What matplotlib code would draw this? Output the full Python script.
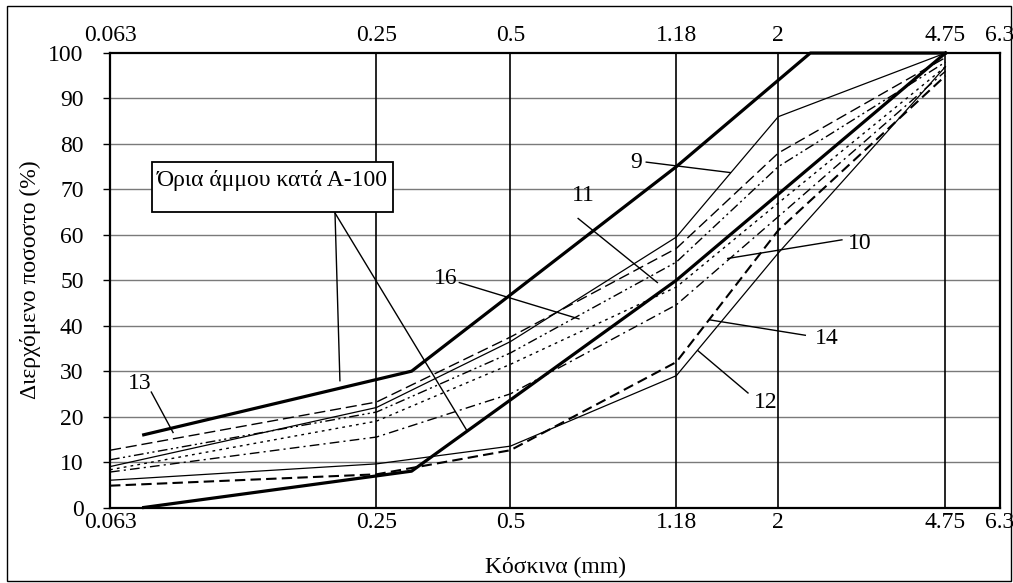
import matplotlib
matplotlib.use('Agg')
import matplotlib.pyplot as plt
from matplotlib.patches import Rectangle
from matplotlib.ticker import FixedLocator, NullLocator

plt.rcParams['font.family'] = ['Liberation Serif', 'DejaVu Serif']
plt.rcParams['font.size'] = 17

# sieve sizes (mm) and axis ticks
sieves = [0.063, 0.25, 0.5, 1.18, 2, 4.75]
tick_vals = [0.063, 0.25, 0.5, 1.18, 2, 4.75, 6.3]
tick_labels = ['0.063', '0.25', '0.5', '1.18', '2', '4.75', '6.3']
grid_x = [0.25, 0.5, 1.18, 2, 4.75]

# A-100 sand limits
upper_x = [0.075, 0.3, 1.18, 2.36, 4.75]
upper_y = [16, 30, 75, 100, 100]
lower_x = [0.075, 0.3, 1.18, 4.75]
lower_y = [0, 8, 50, 100]

# passing percentages of the samples
s9 = [9.0, 22.0, 36.5, 59.5, 86.0, 100]
s13 = [12.6, 23.2, 37.5, 57.0, 78.0, 99]
s11 = [10.5, 21.0, 34.0, 54.0, 75.0, 98]
s16 = [8.3, 19.0, 31.5, 48.5, 67.0, 97]
s10 = [7.8, 15.5, 25.0, 44.6, 64.0, 96]
s14 = [4.8, 7.3, 12.6, 32.0, 61.0, 95]
s12 = [6.0, 9.6, 13.5, 29.0, 56.0, 97]

fig = plt.figure(figsize=(10.13, 5.83), dpi=100)
ax = fig.add_axes([0.1086, 0.1295, 0.8786, 0.7795])
ax.set_xscale('log')
ax.set_xlim(0.063, 6.3)
ax.set_ylim(0, 100)

ax.xaxis.set_major_locator(FixedLocator(tick_vals))
ax.xaxis.set_minor_locator(NullLocator())
ax.set_xticklabels(tick_labels)
ax.tick_params(axis='x', length=0, pad=3)
ax.set_yticks(range(0, 101, 10))
ax.tick_params(axis='y', length=5, width=1, pad=14)

top = ax.secondary_xaxis('top')
top.xaxis.set_major_locator(FixedLocator(tick_vals))
top.xaxis.set_minor_locator(NullLocator())
top.set_xticklabels(tick_labels)
top.tick_params(axis='x', length=0, pad=5)
top.spines['top'].set_visible(False)

for s in ax.spines.values():
    s.set_linewidth(1.6)

for y in range(10, 100, 10):
    ax.axhline(y, color='#7a7a7a', lw=1.0, zorder=1)
for x in grid_x:
    ax.axvline(x, color='black', lw=1.2, zorder=1)

# samples
ax.plot(sieves, s9, color='black', lw=0.9, zorder=3)
ax.plot(sieves, s12, color='black', lw=0.9, zorder=3)
ax.plot(sieves, s13, color='black', lw=1.0, dashes=(8, 3.5), zorder=3)
ax.plot(sieves, s14, color='black', lw=1.5, dashes=(5, 2.5), zorder=3)
ax.plot(sieves, s10, color='black', lw=1.0, dashes=(7, 3, 1.5, 3), zorder=3)
ax.plot(sieves, s16, color='black', lw=1.0, dashes=(2, 3), zorder=3)
ax.plot(sieves, s11, color='black', lw=1.0, dashes=(7, 2.5, 1.5, 2.5, 1.5, 2.5), zorder=3)

# limits
ax.plot(upper_x, upper_y, color='black', lw=2.3, zorder=4, clip_on=False)
ax.plot(lower_x, lower_y, color='black', lw=2.3, zorder=4, clip_on=False)

# labels with leader lines
labels = [
    ('9', (0.958, 76), (1.01, 76), (1.56, 73.7)),
    ('10', (3.05, 58), (2.78, 58.9), (1.54, 54.8)),
    ('11', (0.728, 68.7), (0.71, 63.6), (1.07, 49.5)),
    ('12', (1.87, 23.1), (1.71, 25.2), (1.32, 34.5)),
    ('13', (0.0735, 27.2), (0.078, 25.4), (0.0873, 16.5)),
    ('14', (2.57, 37.2), (2.30, 37.9), (1.40, 41.3)),
    ('16', (0.357, 50.4), (0.384, 49.5), (0.713, 41.5)),
]
for txt, pos, p0, p1 in labels:
    ax.text(pos[0], pos[1], txt, ha='center', va='center', zorder=6)
    ax.plot([p0[0], p1[0]], [p0[1], p1[1]], color='black', lw=1.0, zorder=6)

# limits box
ax.add_patch(Rectangle((0.0472, 0.650), 0.2708, 0.110, transform=ax.transAxes,
                       facecolor='white', edgecolor='black', lw=1.3, zorder=5))
ax.text(0.1826, 0.7206, 'Όρια άμμου κατά Α-100', transform=ax.transAxes,
        ha='center', va='center', zorder=6)
ax.plot([0.2018, 0.207], [64.8, 27.9], color='black', lw=1.0, zorder=6)
ax.plot([0.2018, 0.40], [64.8, 16.8], color='black', lw=1.0, zorder=6)

fig.text(0.548, 0.026, 'Κόσκινα (mm)', ha='center', va='center')
fig.text(0.030, 0.52, 'Διερχόμενο ποσοστο (%)', rotation=90, ha='center', va='center')

fig.add_artist(Rectangle((0.007, 0.004), 0.991, 0.986, transform=fig.transFigure,
                         fill=False, edgecolor='black', lw=1.0))

fig.savefig('out.png', dpi=100)
